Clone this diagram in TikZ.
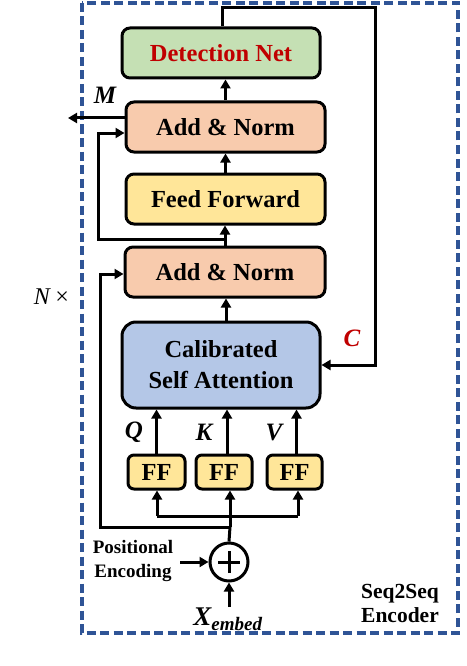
\documentclass[tikz,border=0pt]{standalone}
\usepackage{fontspec}
\setmainfont{Liberation Serif}
\usepackage{tikz}
\definecolor{framecol}{RGB}{47,84,150}
\definecolor{detgreen}{RGB}{197,224,180}
\definecolor{normpeach}{RGB}{248,203,173}
\definecolor{ffyellow}{RGB}{255,230,153}
\definecolor{attblue}{RGB}{180,199,231}
\definecolor{darkred}{RGB}{192,0,0}
\usetikzlibrary{arrows.meta}
\usetikzlibrary{positioning}

\tikzset{
  block/.style={draw, line width=3pt, rounded corners=8pt, inner sep=0pt,
    minimum height=50pt, font=\fontsize{24.5}{28}\bfseries},
  smallff/.style={block, rounded corners=6pt, minimum height=34pt},
  arr/.style={line width=3pt, -{Triangle[length=9pt,width=10pt]}},
  wire/.style={line width=3pt},
  lbl/.style={font=\fontsize{25}{28}\bfseries\itshape},
}

\begin{document}
\begin{tikzpicture}[x=1pt,y=-1pt]
    \useasboundingbox (0,0) rectangle (466,666);
    % outer encoder frame
    \draw[framecol, line width=3.5pt, dash pattern=on 9pt off 4.5pt] (82,3) rectangle (458,633);

    % main column
    \node[block, fill=detgreen, text=darkred, minimum width=198pt] (detnet) at (221,53) {Detection Net};
    \node[block, fill=normpeach, minimum width=199pt] (addtop) at (225.5,127) {Add \& Norm};
    \node[block, fill=ffyellow, minimum width=199pt] (feed) at (225.5,199) {Feed Forward};
    \node[block, fill=normpeach, minimum width=200pt] (addbot) at (225,272) {Add \& Norm};
    \node[block, fill=attblue, rounded corners=14pt, minimum width=198pt, minimum height=86pt,
          align=center, font=\fontsize{24.5}{31}\bfseries] (csa) at (221,365) {Calibrated\\Self Attention};

    % Q K V projections
    \node[smallff, fill=ffyellow, minimum width=57pt] (ffq) at (156.5,472) {FF};
    \node[smallff, fill=ffyellow, minimum width=56pt] (ffk) at (224,472) {FF};
    \node[smallff, fill=ffyellow, minimum width=55pt] (ffv) at (294.5,472) {FF};
    \node[draw, circle, line width=3pt, minimum size=38pt, inner sep=0pt] (plus) at (229,562) {};
    \draw[wire] ([xshift=-11pt]plus.center) -- ([xshift=11pt]plus.center);
    \draw[wire] ([yshift=-11pt]plus.center) -- ([yshift=11pt]plus.center);

    % labels
    \node[lbl] (qlab) at (134,432) {Q};
    \node[lbl] (klab) at (204,432) {K};
    \node[lbl] (vlab) at (274,432) {V};
    \node[lbl] (mlab) at (105,95) {M};
    \node[lbl, text=darkred] (clab) at (352,338) {C};
    \node[font=\fontsize{24}{28}\itshape] (nlab) at (52,297) {N\,×};
    \node[font=\fontsize{19}{24}\bfseries, align=center] (poslab) at (133,561) {Positional\\Encoding};
    \node[font=\fontsize{21.5}{24}\bfseries, align=center] (enclab) at (400,603) {Seq2Seq\\Encoder};
    \node[font=\fontsize{27}{30}\bfseries\itshape] (xlab) at (228,619) {X\textsubscript{\fontsize{19}{20}\selectfont embed}};

    % coordinates for the wires
    \coordinate (cright) at (375,8);
    \coordinate (mend) at (68,118);
    \coordinate (res1a) at (224,239);
    \coordinate (res1b) at (98,239);
    \coordinate (res1c) at (98,133);
    \coordinate (res2a) at (230,527);
    \coordinate (res2b) at (100,527);
    \coordinate (res2c) at (100,274);
    \coordinate (brq) at (157,516);
    \coordinate (brv) at (298,516);
    \coordinate (posend) at (180,562);
    \coordinate (xend) at (229,607);

    % main flow
    \draw[arr] (addtop.north) -- (addtop.north |- detnet.south);
    \draw[arr] (feed.north) -- (feed.north |- addtop.south);
    \draw[arr] (addbot.north) -- (addbot.north |- feed.south);
    \draw[arr] ([xshift=5pt]csa.north) -- ([xshift=5pt]csa.north |- addbot.south);
    \draw[arr] (ffq.north) -- (ffq.north |- csa.south);
    \draw[arr] ([xshift=3pt]ffk.north) -- ([xshift=3pt]ffk.north |- csa.south);
    \draw[arr] ([xshift=2pt]ffv.north) -- ([xshift=2pt]ffv.north |- csa.south);

    % calibration loop
    \draw[arr] ([xshift=1pt]detnet.north) |- (cright) |- (csa.east);
    % output M
    \draw[arr] (addtop.west |- mend) -- (mend);

    % residual connections
    \draw[arr] (res1a) -- (res1b) -- (res1c) -- (res1c -| addtop.west);
    \draw[arr] (res2a) -- (res2b) -- (res2c) -- (res2c -| addbot.west);

    % input split
    \draw[wire] (plus.north) -- (res2a);
    \draw[arr] (res2a) -- (res2a |- ffk.south);
    \draw[wire] (brq) -- (brv);
    \draw[arr] (brq) -- (brq |- ffq.south);
    \draw[arr] (brv) -- (brv |- ffv.south);
    \draw[arr] (posend) -- (plus.west);
    \draw[arr] (xend) -- (plus.south);
\end{tikzpicture}
\end{document}
